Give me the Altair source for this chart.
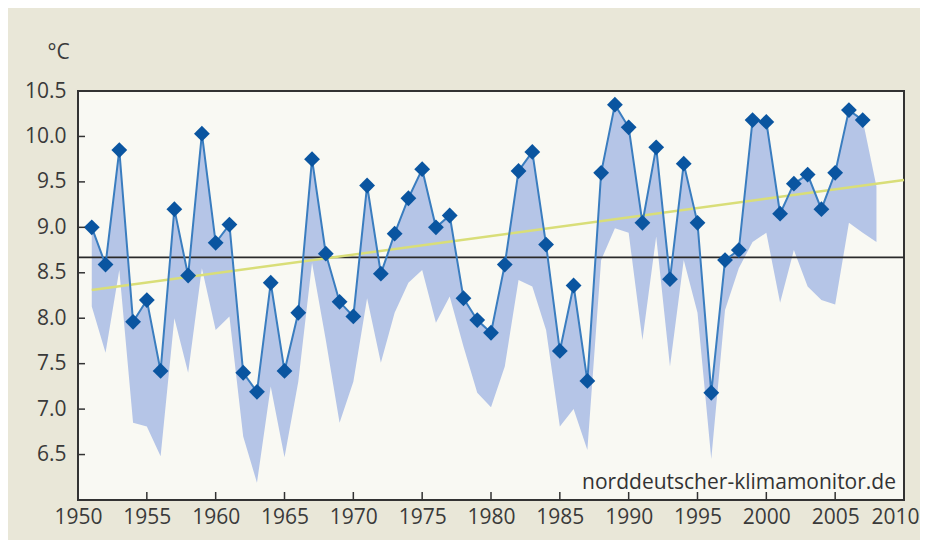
import altair as alt
import pandas as pd

# ---- data ----
years = list(range(1951, 2008))
temps = [9.00, 8.59, 9.85, 7.96, 8.20, 7.42, 9.20, 8.47, 10.03, 8.83,
         9.03, 7.40, 7.19, 8.39, 7.42, 8.06, 9.75, 8.71, 8.18, 8.02,
         9.46, 8.49, 8.93, 9.32, 9.64, 9.00, 9.13, 8.22, 7.98, 7.84,
         8.59, 9.62, 9.83, 8.81, 7.64, 8.36, 7.31, 9.60, 10.35, 10.10,
         9.05, 9.88, 8.43, 9.70, 9.05, 7.18, 8.64, 8.75, 10.18, 10.16,
         9.15, 9.48, 9.58, 9.20, 9.60, 10.29, 10.18]

band_years = list(range(1951, 2009))
band_hi = [9.00, 8.59, 9.85, 7.96, 8.20, 7.42, 9.20, 8.47, 10.03, 8.83,
           9.03, 7.40, 7.19, 8.39, 7.42, 8.06, 9.75, 8.71, 8.18, 8.02,
           9.46, 8.49, 8.93, 9.32, 9.64, 9.00, 9.13, 8.22, 7.98, 7.84,
           8.59, 9.62, 9.83, 8.81, 7.64, 8.36, 7.31, 9.60, 10.35, 10.10,
           9.05, 9.88, 8.43, 9.70, 9.05, 7.18, 8.64, 8.75, 10.18, 10.16,
           9.15, 9.48, 9.58, 9.20, 9.60, 10.29, 10.18, 9.45]
band_lo = [8.13, 7.62, 8.53, 6.85, 6.81, 6.48, 8.00, 7.40, 8.55, 7.87,
           8.02, 6.70, 6.19, 7.25, 6.47, 7.30, 8.61, 7.76, 6.85, 7.30,
           8.22, 7.51, 8.06, 8.39, 8.53, 7.95, 8.24, 7.69, 7.18, 7.02,
           7.47, 8.42, 8.35, 7.87, 6.81, 7.00, 6.55, 8.64, 8.99, 8.94,
           7.76, 8.90, 7.47, 8.64, 8.06, 6.45, 8.09, 8.55, 8.84, 8.94,
           8.17, 8.75, 8.35, 8.20, 8.15, 9.05, 8.94, 8.84]

mean_years = [1950, 2010]
mean_vals = [8.67, 8.67]

trend_years = [1951, 2010]
trend_vals = [8.31, 9.52]

x_ticks = [1955, 1960, 1965, 1970, 1975, 1980, 1985, 1990, 1995, 2000, 2005]
x_labels = [1950, 1955, 1960, 1965, 1970, 1975, 1980, 1985, 1990, 1995, 2000, 2005, 2010]
y_ticks = [6.5, 7.0, 7.5, 8.0, 8.5, 9.0, 9.5, 10.0]
y_labels = [6.5, 7.0, 7.5, 8.0, 8.5, 9.0, 9.5, 10.0, 10.5]

# ---- frames ----
df_line = pd.DataFrame({"year": years, "temp": temps})
df_band = pd.DataFrame({"year": band_years, "lo": band_lo, "hi": band_hi})
df_mean = pd.DataFrame({"year": mean_years, "temp": mean_vals})
df_trend = pd.DataFrame({"year": trend_years, "temp": trend_vals})
df_xt = pd.DataFrame({"year": x_ticks})
df_yt = pd.DataFrame({"temp": y_ticks})

W, H = 826, 409
FONT = "Open Sans"
FS = 21

xscale = alt.Scale(domain=[1950, 2010], nice=False, zero=False)
yscale = alt.Scale(domain=[6.0, 10.5], nice=False, zero=False)

xaxis = alt.Axis(values=x_labels, format="d", ticks=False, domain=False, grid=False,
                 labelFontSize=FS, labelColor="#3a3a3a", labelFont=FONT,
                 labelPadding=6, labelOverlap=False, labelFlush=False, title=None,
                 labelAlign={"expr": "datum.value == 2010 ? 'right' : 'center'"},
                 labelOffset={"expr": "datum.value == 2010 ? 15 : 0"})
yaxis = alt.Axis(values=y_labels, format=".1f", ticks=False, domain=False, grid=False,
                 labelFontSize=FS, labelColor="#3a3a3a", labelFont=FONT,
                 labelPadding=12, labelOverlap=False, labelFlush=False,
                 title="°C", titleAngle=0, titleAlign="left", titleBaseline="middle",
                 titleX=-31, titleY=-39, titleFontSize=FS, titleFontWeight="normal",
                 titleColor="#3a3a3a", titleFont=FONT)

band = alt.Chart(df_band).mark_area(color="#b5c5e7", opacity=1).encode(
    x=alt.X("year:Q", scale=xscale, axis=xaxis),
    y=alt.Y("lo:Q", scale=yscale, axis=yaxis),
    y2="hi:Q",
)

mean_line = alt.Chart(df_mean).mark_line(color="#2a2a2a", strokeWidth=1.8).encode(
    x=alt.X("year:Q", scale=xscale),
    y=alt.Y("temp:Q", scale=yscale),
)

trend_line = alt.Chart(df_trend).mark_line(color="#d9de78", strokeWidth=2.5).encode(
    x=alt.X("year:Q", scale=xscale),
    y=alt.Y("temp:Q", scale=yscale),
)

line = alt.Chart(df_line).mark_line(color="#3a7dbf", strokeWidth=2).encode(
    x=alt.X("year:Q", scale=xscale),
    y=alt.Y("temp:Q", scale=yscale),
)

points = alt.Chart(df_line).mark_point(shape="diamond", filled=True, size=250,
                                       color="#0a55a0", opacity=1).encode(
    x=alt.X("year:Q", scale=xscale),
    y=alt.Y("temp:Q", scale=yscale),
)

xt = alt.Chart(df_xt).mark_rule(color="#333333", strokeWidth=1.5).encode(
    x=alt.X("year:Q", scale=xscale),
    y=alt.value(H),
    y2=alt.value(H - 8),
)

yt = alt.Chart(df_yt).mark_rule(color="#333333", strokeWidth=1.5).encode(
    y=alt.Y("temp:Q", scale=yscale),
    x=alt.value(0),
    x2=alt.value(7),
)

source = alt.Chart(pd.DataFrame({"t": ["norddeutscher-klimamonitor.de"]})).mark_text(
    align="right", baseline="alphabetic", fontSize=FS, font=FONT, color="#333333"
).encode(text="t:N", x=alt.value(W - 8), y=alt.value(H - 11))

chart = alt.layer(band, mean_line, trend_line, line, points, xt, yt, source).properties(
    width=W, height=H,
    autosize=alt.AutoSizeParams(type="none"),
    padding={"left": 70, "top": 83, "right": 16, "bottom": 40},
).configure(background="#e9e7d8").configure_view(
    fill="#f9f9f3", stroke="#333333", strokeWidth=2
)

chart.save("out.html", embed_options={"renderer": "svg", "actions": False})
